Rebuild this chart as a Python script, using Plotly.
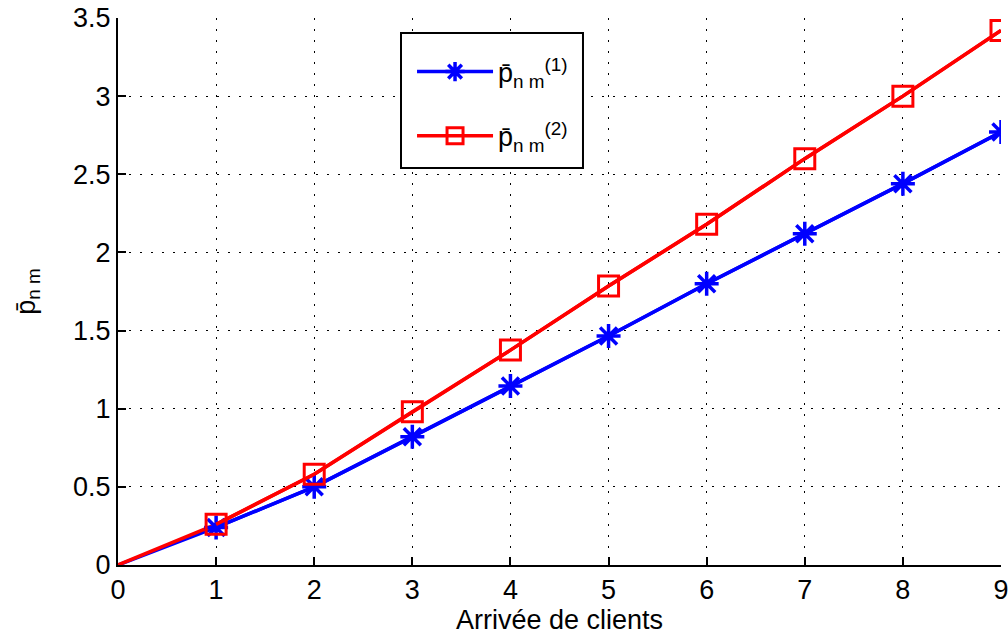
import plotly.graph_objects as go

x_vals = [0, 1, 2, 3, 4, 5, 6, 7, 8, 9]
p1 = [0, 0.24, 0.50, 0.82, 1.145, 1.465, 1.80, 2.12, 2.44, 2.77]
p2 = [0, 0.26, 0.58, 0.98, 1.375, 1.785, 2.18, 2.60, 3.00, 3.42]
x_ticks = [0, 1, 2, 3, 4, 5, 6, 7, 8, 9]
y_ticks = [0, 0.5, 1, 1.5, 2, 2.5, 3, 3.5]
y_tick_text = ["0", "0.5", "1", "1.5", "2", "2.5", "3", "3.5"]
names = ["p\u0304<sub>n m</sub><sup>(1)</sup>", "p\u0304<sub>n m</sub><sup>(2)</sup>"]

FONT = "Liberation Sans, Arial, sans-serif"
FS = 27

fig = go.Figure()
# full lines (including origin, no marker there)
fig.add_trace(go.Scatter(x=x_vals, y=p1, mode="lines", showlegend=False,
                         line=dict(color="#0000ff", width=3.5)))
fig.add_trace(go.Scatter(x=x_vals, y=p2, mode="lines", showlegend=False,
                         line=dict(color="#ff0000", width=3.5)))
# markers (from x=1 on) with legend entries
fig.add_trace(go.Scatter(
    x=x_vals[1:], y=p1[1:], mode="lines+markers", name=names[0], legendgroup="a",
    line=dict(color="#0000ff", width=3.5),
    marker=dict(symbol="asterisk-open", size=20,
                color="#0000ff", line=dict(color="#0000ff", width=3.5)),
))
fig.add_trace(go.Scatter(
    x=x_vals[1:], y=p2[1:], mode="lines+markers", name=names[1], legendgroup="b",
    line=dict(color="#ff0000", width=3.5),
    marker=dict(symbol="square-open", size=20,
                color="#ff0000", line=dict(color="#ff0000", width=3)),
))

# legend frame
fig.add_shape(type="rect", xref="paper", yref="paper",
              x0=0.3205, x1=0.5266, y0=0.7258, y1=0.9726,
              line=dict(color="black", width=2), fillcolor="white", layer="above")

grid_dash = "2px,9px"
fig.update_layout(
    width=1008, height=642,
    margin=dict(l=118, r=7, t=18, b=77),
    paper_bgcolor="white", plot_bgcolor="white",
    font=dict(family=FONT, size=FS, color="black"),
    showlegend=True,
    legend=dict(
        x=0.333, y=0.946, xanchor="left", yanchor="top",
        borderwidth=0, bgcolor="rgba(0,0,0,0)",
        font=dict(family=FONT, size=FS, color="black"),
        itemwidth=76, tracegroupgap=26,
    ),
    xaxis=dict(
        range=[0, 9], tickvals=x_ticks, ticktext=[str(v) for v in x_ticks],
        showline=True, linecolor="black", linewidth=2,
        ticks="inside", ticklen=8, tickwidth=1.5, tickcolor="black",
        showgrid=True, gridcolor="black", gridwidth=1, griddash=grid_dash,
        zeroline=False, automargin=False, ticklabeloverflow="allow",
        title=dict(text="Arrivée de clients", standoff=6,
                   font=dict(family=FONT, size=FS)),
        tickfont=dict(family=FONT, size=FS),
    ),
    yaxis=dict(
        range=[0, 3.5], tickvals=y_ticks, ticktext=y_tick_text,
        showline=True, linecolor="black", linewidth=2,
        ticks="inside", ticklen=8, tickwidth=1.5, tickcolor="black",
        showgrid=True, gridcolor="black", gridwidth=1, griddash=grid_dash,
        zeroline=False, automargin=False, ticklabeloverflow="allow",
        title=dict(text="p\u0304<sub>n m</sub>", standoff=30,
                   font=dict(family=FONT, size=FS)),
        tickfont=dict(family=FONT, size=FS),
    ),
)

fig.write_html("out.html", config={"displayModeBar": False},
               post_script="document.body.style.margin='0px';")
